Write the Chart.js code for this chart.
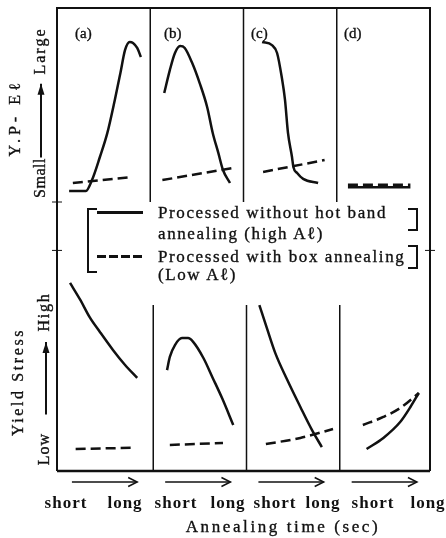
<!DOCTYPE html>
<html>
<head>
<meta charset="utf-8">
<script src="https://cdn.jsdelivr.net/npm/chart.js@4.4.1/dist/chart.umd.min.js"></script>
<style>
  body { margin: 0; background: #fff; }
  #wrap { position: relative; width: 446px; height: 538px; overflow: hidden; font-family: 'Liberation Serif', serif; color: #111; }
  canvas { position: absolute; left: 0; top: 0; }
  .t { position: absolute; white-space: nowrap; line-height: 1; -webkit-text-stroke: 0.35px #111; }
  .c { transform: translate(-50%, -50%); }
  .l { transform: translateY(-50%); }
  .rot { transform: translate(-50%, -50%) rotate(-90deg); }
  .b { font-weight: bold; -webkit-text-stroke: 0; }
</style>
</head>
<body>
<div id="wrap">
  <canvas id="chart" width="446" height="538"></canvas>

  <div class="t rot" style="left:15px; top:118px; font-size:16px; letter-spacing:4px;">Y.P- E&#8467;</div>
  <div class="t rot" style="left:40px; top:51px; font-size:16px; letter-spacing:2px;">Large</div>
  <div class="t rot" style="left:40px; top:178px; font-size:16px; letter-spacing:0.5px;">Small</div>

  <div class="t rot" style="left:18px; top:382px; font-size:16px; letter-spacing:2.6px;">Yield Stress</div>
  <div class="t rot" style="left:44px; top:312px; font-size:16px; letter-spacing:1.7px;">High</div>
  <div class="t rot" style="left:44px; top:449px; font-size:16px; letter-spacing:1px;">Low</div>

  <div class="t l" style="left:75px; top:33px; font-size:15px;">(a)</div>
  <div class="t l" style="left:164px; top:33px; font-size:15px;">(b)</div>
  <div class="t l" style="left:251px; top:33px; font-size:15px;">(c)</div>
  <div class="t l" style="left:344px; top:33px; font-size:15px;">(d)</div>

  <!-- legend -->
  <div style="position:absolute; left:87px; top:208px; width:8px; height:61px; border-left:2px solid #111; border-top:2px solid #111; border-bottom:2px solid #111;"></div>
  <div style="position:absolute; left:408px; top:208px; width:8px; height:19px; border-right:2px solid #111; border-top:2px solid #111; border-bottom:2px solid #111;"></div>
  <div style="position:absolute; left:408px; top:245px; width:8px; height:20px; border-right:2px solid #111; border-top:2px solid #111; border-bottom:2px solid #111;"></div>
  <div style="position:absolute; left:97px; top:211px; width:46px; height:2.5px; background:#111;"></div>
  <div style="position:absolute; left:97px; top:255px; width:46px; height:2.5px; background:repeating-linear-gradient(90deg, #111 0 9px, transparent 9px 12px);"></div>
  <div class="t l" style="left:158px; top:212px; font-size:17px; letter-spacing:1.6px;">Processed without hot band</div>
  <div class="t l" style="left:158px; top:233px; font-size:17px; letter-spacing:1.6px;">annealing (high A&#8467;)</div>
  <div class="t l" style="left:158px; top:256px; font-size:17px; letter-spacing:1.6px;">Processed with box annealing</div>
  <div class="t l" style="left:158px; top:274px; font-size:17px; letter-spacing:1.6px;">(Low A&#8467;)</div>

  <!-- x labels -->
  <div class="t c b" style="left:66px; top:502px; font-size:17px; letter-spacing:1px;">short</div>
  <div class="t c b" style="left:125px; top:502px; font-size:17px; letter-spacing:1px;">long</div>
  <div class="t c b" style="left:176px; top:502px; font-size:17px; letter-spacing:1px;">short</div>
  <div class="t c b" style="left:228px; top:502px; font-size:17px; letter-spacing:1px;">long</div>
  <div class="t c b" style="left:275px; top:502px; font-size:17px; letter-spacing:1px;">short</div>
  <div class="t c b" style="left:323px; top:502px; font-size:17px; letter-spacing:1px;">long</div>
  <div class="t c b" style="left:373px; top:502px; font-size:17px; letter-spacing:1px;">short</div>
  <div class="t c b" style="left:428px; top:502px; font-size:17px; letter-spacing:1px;">long</div>
  <div class="t c" style="left:283px; top:526px; font-size:17px; letter-spacing:2.6px;">Annealing time (sec)</div>
</div>

<script>
// panels (a)-(d); x inside a panel: 0 = short, 1 = long annealing time
const panels = ['(a)', '(b)', '(c)', '(d)'];

// Y.P-El (relative, 0 small - 100 large)
const yplSolidA = [[0.13, 5.7], [0.31, 5.7], [0.375, 11.3], [0.46, 23.2], [0.54, 35.6], [0.62, 52.6], [0.68, 66.5], [0.73, 78.4], [0.78, 82.5], [0.815, 82.0], [0.86, 79.4], [0.90, 74.7]];
const yplDashA = [[0.17, 9.8], [0.80, 12.9]];
const yplSolidB = [[0.15, 56.2], [0.21, 68.0], [0.265, 76.8], [0.32, 80.4], [0.37, 79.4], [0.45, 71.6], [0.53, 61.3], [0.61, 49.0], [0.67, 35.6], [0.73, 25.3], [0.78, 16.5], [0.855, 9.8]];
const yplDashB = [[0.13, 11.3], [0.88, 17.5]];
const yplSolidC = [[0.20, 82.5], [0.305, 80.9], [0.36, 76.8], [0.41, 64.4], [0.445, 52.6], [0.477, 35.6], [0.52, 23.2], [0.535, 18.0], [0.575, 14.9], [0.64, 11.9], [0.80, 9.8]];
const yplDashC = [[0.21, 15.5], [0.87, 21.6]];
const yplSolidD = [[0.12, 7.6], [0.79, 7.6]];
const yplDashD = [[0.12, 8.9], [0.79, 8.9]];

// Yield stress (relative, 0 low - 100 high)
const ysSolidA = [[0.14, 69.9], [0.25, 63.6], [0.35, 57.2], [0.46, 51.7], [0.60, 45.0], [0.73, 39.4], [0.86, 34.6]];
const ysDashA = [[0.20, 8.2], [0.79, 8.6]];
const ysSolidB = [[0.18, 37.5], [0.21, 42.4], [0.265, 46.8], [0.34, 49.4], [0.405, 49.4], [0.46, 48.0], [0.57, 42.0], [0.67, 34.6], [0.77, 27.1], [0.89, 17.1]];
const ysDashB = [[0.21, 9.7], [0.78, 10.4]];
const ysSolidC = [[0.17, 61.7], [0.25, 53.2], [0.34, 43.9], [0.47, 33.8], [0.61, 23.8], [0.735, 15.2], [0.84, 8.9]];
const ysDashC = [[0.24, 10.0], [0.61, 12.3], [0.96, 15.6]];
const ysSolidD = [[0.32, 8.2], [0.50, 12.3], [0.68, 18.2], [0.79, 23.8], [0.88, 29.0]];
const ysDashD = [[0.28, 17.1], [0.50, 20.1], [0.68, 23.4], [0.88, 29.0]];

// where the lower panel dividers begin
const ysDividerTop = 61.7;

const ink = '#111';

const series = [
    [yplSolidA, 0, 'yTop', false], [yplDashA, 0, 'yTop', true],
    [yplSolidB, 1, 'yTop', false], [yplDashB, 1, 'yTop', true],
    [yplSolidC, 2, 'yTop', false], [yplDashC, 2, 'yTop', true],
    [yplSolidD, 3, 'yTop', false], [yplDashD, 3, 'yTop', true],
    [ysSolidA, 0, 'yBot', false], [ysDashA, 0, 'yBot', true],
    [ysSolidB, 1, 'yBot', false], [ysDashB, 1, 'yBot', true],
    [ysSolidC, 2, 'yBot', false], [ysDashC, 2, 'yBot', true],
    [ysSolidD, 3, 'yBot', false], [ysDashD, 3, 'yBot', true]
];

const datasets = series.map(([pts, panel, axis, dashed]) => ({
    data: pts.map(([t, v]) => ({ x: panel + t, y: v })),
    yAxisID: axis,
    showLine: true,
    borderColor: ink,
    borderWidth: 2.5,
    borderDash: dashed ? [10, 5] : [],
    cubicInterpolationMode: 'monotone',
    pointRadius: 0
}));

function arrow(ctx, x1, y1, x2, y2, filled) {
    const a = Math.atan2(y2 - y1, x2 - x1);
    ctx.beginPath();
    ctx.moveTo(x1, y1);
    ctx.lineTo(x2, y2);
    ctx.stroke();
    const len = filled ? 11 : 9, w = filled ? 3.5 : 4.5;
    const bx = x2 - len * Math.cos(a), by = y2 - len * Math.sin(a);
    const px = -Math.sin(a) * w, py = Math.cos(a) * w;
    ctx.beginPath();
    if (filled) {
        ctx.moveTo(x2, y2);
        ctx.lineTo(bx + px, by + py);
        ctx.lineTo(bx - px, by - py);
        ctx.closePath();
        ctx.fill();
    } else {
        ctx.moveTo(bx + px, by + py);
        ctx.lineTo(x2, y2);
        ctx.lineTo(bx - px, by - py);
        ctx.stroke();
    }
}

const frame = {
    id: 'frame',
    beforeDatasetsDraw(chart) {
        const { ctx, scales: { x, yTop, yBot } } = chart;
        const L = x.getPixelForValue(0);
        const R = x.getPixelForValue(panels.length);
        const T = yTop.getPixelForValue(100);
        const M = yTop.getPixelForValue(0);
        const B = yBot.getPixelForValue(0);
        ctx.save();
        ctx.strokeStyle = ink;
        ctx.fillStyle = ink;
        ctx.lineWidth = 2;
        ctx.beginPath();
        ctx.moveTo(L, B); ctx.lineTo(L, T); ctx.lineTo(R, T); ctx.lineTo(R, B);
        ctx.stroke();
        ctx.lineWidth = 2.5;
        ctx.beginPath(); ctx.moveTo(L, B); ctx.lineTo(R, B); ctx.stroke();
        ctx.lineWidth = 1.5;
        const dTop = yBot.getPixelForValue(ysDividerTop);
        for (let i = 1; i < panels.length; i++) {
            const px = x.getPixelForValue(i);
            ctx.beginPath(); ctx.moveTo(px, T); ctx.lineTo(px, M); ctx.stroke();
            ctx.beginPath(); ctx.moveTo(px + 3, dTop); ctx.lineTo(px + 3, B); ctx.stroke();
        }
        // small ticks on the frame
        ctx.lineWidth = 1;
        const tk = yBot.getPixelForValue(82);
        [[L, M], [L, tk], [R, tk]].forEach(([tx, ty]) => {
            ctx.beginPath(); ctx.moveTo(tx - 5, ty); ctx.lineTo(tx + 5, ty); ctx.stroke();
        });
        // time arrows under each panel
        ctx.lineWidth = 1.5;
        for (let i = 0; i < panels.length; i++) {
            arrow(ctx, x.getPixelForValue(i + 0.16), B + 11, x.getPixelForValue(i + 0.86), B + 11, false);
        }
        // y arrows
        ctx.lineWidth = 2;
        arrow(ctx, L - 16, yTop.getPixelForValue(23), L - 16, yTop.getPixelForValue(61), true);
        arrow(ctx, L - 11, yBot.getPixelForValue(21), L - 11, yBot.getPixelForValue(48), true);
        ctx.restore();
    }
};

new Chart(document.getElementById('chart'), {
    type: 'scatter',
    data: { datasets },
    options: {
        responsive: false,
        animation: false,
        devicePixelRatio: 1,
        layout: { padding: { left: 57, right: 16, top: 8, bottom: 67 } },
        plugins: { legend: { display: false }, tooltip: { enabled: false } },
        scales: {
            x: { type: 'linear', min: 0, max: panels.length, display: false },
            yBot: { type: 'linear', position: 'left', stack: 'v', stackWeight: 269, min: 0, max: 100, display: false },
            yTop: { type: 'linear', position: 'left', stack: 'v', stackWeight: 194, min: 0, max: 100, display: false }
        }
    },
    plugins: [frame]
});
</script>
</body>
</html>
